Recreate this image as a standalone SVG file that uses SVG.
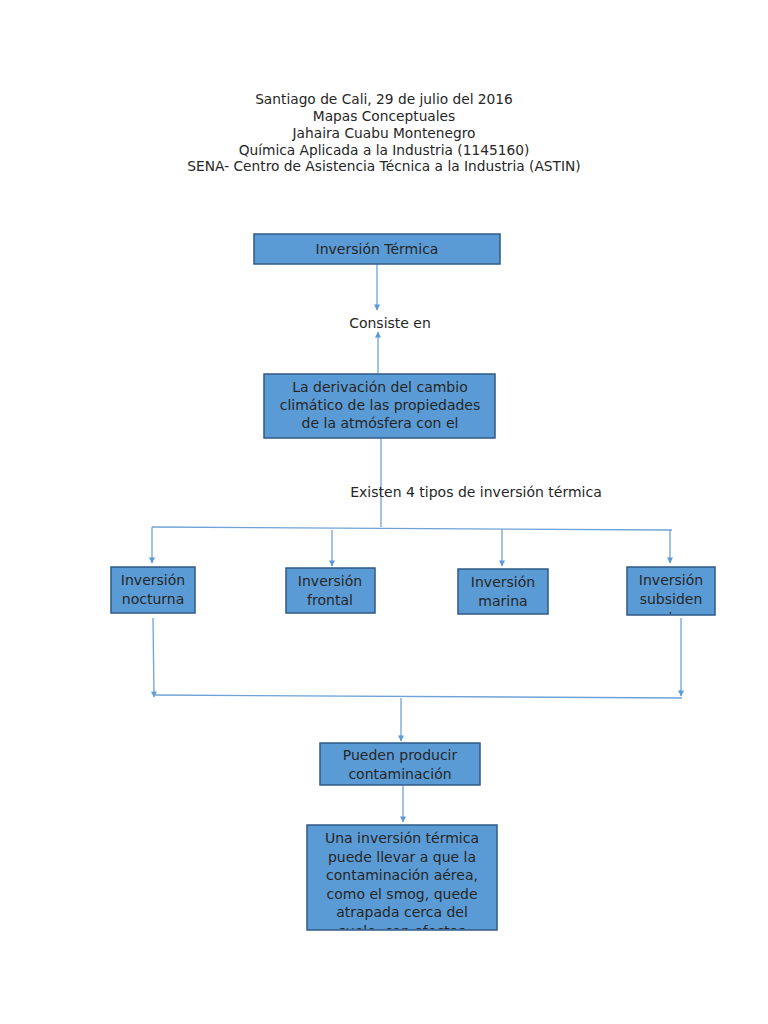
<svg xmlns="http://www.w3.org/2000/svg" width="768" height="1024" viewBox="0 0 768 1024">
<style>
text{font-family:"DejaVu Sans",sans-serif;font-size:14px;fill:#262626;text-anchor:middle}
#header text{font-size:13.75px}
.box{fill:#5b9bd5;stroke:#2f5a86;stroke-width:1.5}
.ln{stroke:#6fa3d8;stroke-width:1.3;fill:none}
</style>
<defs>
<marker id="ah" viewBox="0 0 10 10" refX="9" refY="5" markerWidth="7" markerHeight="6" orient="auto" markerUnits="userSpaceOnUse"><path d="M0,0L10,5L0,10z" fill="#5b9bd5"/></marker>
<clipPath id="c1"><rect x="627" y="567" width="88" height="48"/></clipPath>
<clipPath id="c2"><rect x="307" y="825" width="190" height="104"/></clipPath>
</defs>
<g id="header">
<text x="384" y="104">Santiago de Cali, 29 de julio del 2016</text>
<text x="384" y="121">Mapas Conceptuales</text>
<text x="384" y="138">Jahaira Cuabu Montenegro</text>
<text x="384" y="155">Química Aplicada a la Industria (1145160)</text>
<text x="384" y="171">SENA- Centro de Asistencia Técnica a la Industria (ASTIN)</text>
</g>
<g id="connectors">
<line class="ln" x1="377" y1="264" x2="377" y2="310" marker-end="url(#ah)"/>
<line class="ln" x1="378" y1="373" x2="378" y2="332" marker-end="url(#ah)"/>
<line class="ln" x1="381" y1="438" x2="381" y2="527"/>
<line class="ln" x1="152" y1="527" x2="672" y2="530"/>
<line class="ln" x1="152" y1="527" x2="152" y2="563" marker-end="url(#ah)"/>
<line class="ln" x1="332" y1="530" x2="332" y2="566" marker-end="url(#ah)"/>
<line class="ln" x1="502" y1="529" x2="502" y2="566" marker-end="url(#ah)"/>
<line class="ln" x1="670" y1="530" x2="670" y2="563" marker-end="url(#ah)"/>
<line class="ln" x1="153" y1="618" x2="154" y2="697" marker-end="url(#ah)"/>
<line class="ln" x1="681" y1="618" x2="681" y2="696" marker-end="url(#ah)"/>
<line class="ln" x1="153" y1="695" x2="682" y2="698"/>
<line class="ln" x1="401" y1="698" x2="401" y2="741" marker-end="url(#ah)"/>
<line class="ln" x1="403" y1="786" x2="403" y2="822" marker-end="url(#ah)"/>
</g>
<g id="n_inversion">
<rect class="box" x="254" y="234" width="246" height="30"/>
<text x="377" y="254">Inversión Térmica</text>
</g>
<g id="n_consiste">
<text x="390" y="328">Consiste en</text>
</g>
<g id="n_derivacion">
<rect class="box" x="264" y="374" width="231" height="64"/>
<text x="380" y="392">La derivación del cambio</text>
<text x="380" y="410">climático de las propiedades</text>
<text x="380" y="428">de la atmósfera con el</text>
</g>
<g id="n_existen">
<text x="476" y="497">Existen 4 tipos de inversión térmica</text>
</g>
<g id="n_nocturna">
<rect class="box" x="111" y="567" width="84" height="46"/>
<text x="153" y="585">Inversión</text>
<text x="153" y="604">nocturna</text>
</g>
<g id="n_frontal">
<rect class="box" x="286" y="568" width="89" height="45"/>
<text x="330" y="586">Inversión</text>
<text x="330" y="605">frontal</text>
</g>
<g id="n_marina">
<rect class="box" x="458" y="569" width="90" height="45"/>
<text x="503" y="587">Inversión</text>
<text x="503" y="606">marina</text>
</g>
<g id="n_subsiden">
<rect class="box" x="627" y="567" width="88" height="48"/>
<g clip-path="url(#c1)">
<text x="671" y="585">Inversión</text>
<text x="671" y="604">subsiden</text>
<text x="671" y="623">cia</text>
</g>
</g>
<g id="n_pueden">
<rect class="box" x="320" y="743" width="160" height="42"/>
<text x="400" y="760">Pueden producir</text>
<text x="400" y="779">contaminación</text>
</g>
<g id="n_una">
<rect class="box" x="307" y="825" width="190" height="105"/>
<g clip-path="url(#c2)">
<text x="402" y="843">Una inversión térmica</text>
<text x="402" y="862">puede llevar a que la</text>
<text x="402" y="880">contaminación aérea,</text>
<text x="402" y="899">como el smog, quede</text>
<text x="402" y="917">atrapada cerca del</text>
<text x="402" y="936">suelo, con efectos</text>
</g>
</g>
</svg>
